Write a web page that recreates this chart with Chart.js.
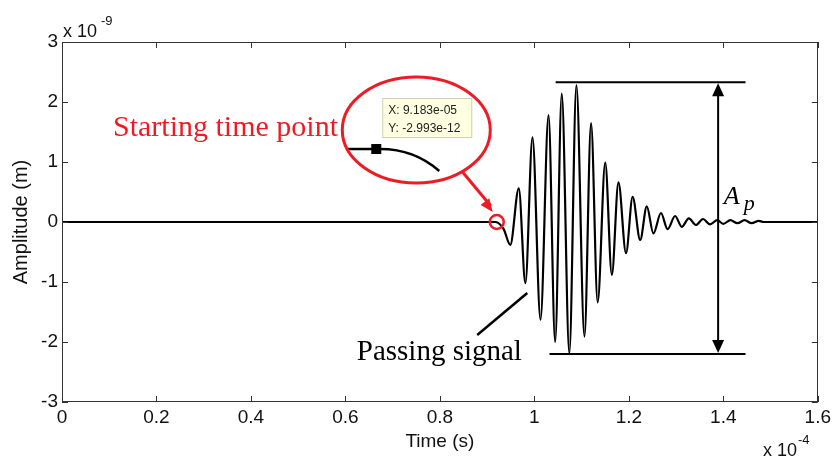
<!DOCTYPE html>
<html><head><meta charset="utf-8">
<script src="https://cdn.jsdelivr.net/npm/chart.js@4/dist/chart.umd.min.js"></script>
<style>html,body{margin:0;padding:0;background:#fff}#wrap{width:835px;height:461px;position:relative}</style>
</head><body><div id="wrap"><canvas id="c" width="835" height="461"></canvas></div>
<script>
// Time in units of 1e-4 s, amplitude in units of 1e-9 m
const timeE4 = [0, 0.918, 0.935, 0.949, 0.967, 0.981, 0.996, 1.013, 1.030, 1.044, 1.058, 1.074, 1.089, 1.106, 1.120, 1.134, 1.150, 1.164, 1.178, 1.194, 1.208, 1.224, 1.238, 1.252, 1.268, 1.282, 1.298, 1.312, 1.327, 1.342, 1.357, 1.372, 1.387, 1.400, 1.415, 1.430, 1.445, 1.460, 1.475, 1.485, 1.6];
const amplitudeE9 = [0, 0, -0.12, -0.38, 0.56, -1.02, 1.41, -1.63, 1.78, -2.00, 2.14, -2.19, 2.28, -1.91, 1.65, -1.34, 0.99, -0.88, 0.66, -0.52, 0.42, -0.30, 0.26, -0.19, 0.15, -0.12, 0.10, -0.08, 0.06, -0.05, 0.05, -0.04, 0.03, -0.03, 0.03, -0.02, 0.03, -0.02, 0.02, 0, 0];
const xTickLabels = ['0', '0.2', '0.4', '0.6', '0.8', '1', '1.2', '1.4', '1.6'];
const yTickLabels = ['-3', '-2', '-1', '0', '1', '2', '3'];
const startPoint = {t: 0.9183, a: -0.002993};
const apTop = 2.33, apBottom = -2.2, apX = 1.389;

const SANS = "'Liberation Sans', Arial, sans-serif";
const SERIF = "'Liberation Serif', 'Times New Roman', serif";
const RED = 'rgb(236,28,36)';

function seg(ctx, x1, y1, x2, y2) { ctx.beginPath(); ctx.moveTo(x1, y1); ctx.lineTo(x2, y2); ctx.stroke(); }
function head(ctx, tx, ty, fx, fy, len, w) {
  const ang = Math.atan2(ty - fy, tx - fx);
  ctx.beginPath();
  ctx.moveTo(tx, ty);
  ctx.lineTo(tx - len * Math.cos(ang) + w / 2 * Math.sin(ang), ty - len * Math.sin(ang) - w / 2 * Math.cos(ang));
  ctx.lineTo(tx - len * Math.cos(ang) - w / 2 * Math.sin(ang), ty - len * Math.sin(ang) + w / 2 * Math.cos(ang));
  ctx.closePath(); ctx.fill();
}

const annot = {
  id: 'annot',
  afterDatasetsDraw(chart) {
    const {ctx, chartArea: a, scales: {x, y}} = chart;
    const X = v => x.getPixelForValue(v), Y = v => y.getPixelForValue(v);
    ctx.save();
    // axes box + inner ticks
    ctx.strokeStyle = '#333'; ctx.lineWidth = 1;
    ctx.strokeRect(Math.round(a.left) + 0.5, Math.round(a.top) + 0.5, Math.round(a.right - a.left) - 1, Math.round(a.bottom - a.top) - 1);
    x.ticks.forEach(t => { const p = Math.round(X(t.value)) + 0.5; seg(ctx, p, a.bottom, p, a.bottom - 6); seg(ctx, p, a.top, p, a.top + 6); });
    y.ticks.forEach(t => { const p = Math.round(Y(t.value)) + 0.5; seg(ctx, a.left, p, a.left + 6, p); seg(ctx, a.right, p, a.right - 6, p); });
    // exponent labels
    ctx.fillStyle = '#111'; ctx.textBaseline = 'alphabetic'; ctx.textAlign = 'left';
    ctx.font = '18px ' + SANS; ctx.fillText('x 10', 63, 37);
    ctx.font = '13px ' + SANS; ctx.fillText('-9', 101, 25);
    ctx.font = '18px ' + SANS; ctx.fillText('x 10', 763, 456);
    ctx.font = '13px ' + SANS; ctx.fillText('-4', 798, 444);

    // A_p double arrow
    ctx.strokeStyle = '#000'; ctx.fillStyle = '#000'; ctx.lineWidth = 2;
    seg(ctx, X(1.045), Y(apTop), X(1.447), Y(apTop));
    seg(ctx, X(1.032), Y(apBottom), X(1.447), Y(apBottom));
    seg(ctx, X(apX), Y(apTop) + 10, X(apX), Y(apBottom) - 10);
    head(ctx, X(apX), Y(apTop) + 1, X(apX), Y(0), 13, 12);
    head(ctx, X(apX), Y(apBottom) - 1, X(apX), Y(0), 13, 12);
    ctx.font = 'italic 26px ' + SERIF; ctx.fillText('A', X(1.401), Y(0.3));
    ctx.font = 'italic 22px ' + SERIF; ctx.fillText('p', X(1.443), Y(0.2));

    // Passing signal
    ctx.lineWidth = 2.5;
    seg(ctx, X(0.879), Y(-1.883), X(0.985), Y(-1.183));
    ctx.font = '29px ' + SERIF; ctx.fillText('Passing signal', X(0.624), Y(-2.3));

    // Starting time point
    ctx.fillStyle = RED; ctx.font = '30px ' + SERIF;
    ctx.fillText('Starting time point', X(0.108), Y(1.433));
    const cx = X(0.750), cy = Y(1.533);
    // magnified inset
    ctx.strokeStyle = '#000'; ctx.lineWidth = 2.5;
    seg(ctx, cx - 69, cy + 19, cx - 40, cy + 19);
    ctx.beginPath(); ctx.moveTo(cx - 36, cy + 19); ctx.quadraticCurveTo(cx - 2, cy + 19, cx + 23, cy + 41); ctx.stroke();
    ctx.fillStyle = '#000'; ctx.fillRect(cx - 45, cy + 14, 10, 10);
    ctx.fillStyle = '#ffffe1'; ctx.strokeStyle = '#cfcfb8'; ctx.lineWidth = 1;
    ctx.fillRect(cx - 34, cy - 32, 90, 40); ctx.strokeRect(cx - 33.5, cy - 31.5, 89, 39);
    ctx.fillStyle = '#222'; ctx.font = '12px ' + SANS;
    ctx.fillText('X: 9.183e-05', cx - 28, cy - 16);
    ctx.fillText('Y: -2.993e-12', cx - 28, cy + 2);
    // ellipse
    ctx.strokeStyle = RED; ctx.fillStyle = RED; ctx.lineWidth = 3;
    ctx.beginPath(); ctx.ellipse(cx, cy, 74, 53, 0, 0, Math.PI * 2); ctx.stroke();
    // arrow to starting point
    const sx = X(startPoint.t), sy = Y(0);
    seg(ctx, X(0.848), Y(0.833), sx - 5, sy - 16);
    head(ctx, sx - 3, sy - 10, X(0.848), Y(0.833), 13, 11);
    ctx.lineWidth = 2.5;
    ctx.beginPath(); ctx.arc(sx + 1, sy, 7, 0, Math.PI * 2); ctx.stroke();
    ctx.restore();
  }
};

const tickFont = {family: SANS, size: 19};
new Chart(document.getElementById('c'), {
  type: 'line',
  data: {
    datasets: [{
      data: timeE4.map((t, i) => ({x: t, y: amplitudeE9[i]})),
      borderColor: '#000', borderWidth: 2.2, pointRadius: 0, cubicInterpolationMode: 'monotone', fill: false
    }]
  },
  options: {
    responsive: false, animation: false,
    layout: {padding: {left: 0, right: 16, top: 42, bottom: 0}},
    plugins: {legend: {display: false}, tooltip: {enabled: false}},
    scales: {
      x: {
        type: 'linear', min: 0, max: 1.6,
        ticks: {stepSize: 0.2, autoSkip: false, maxRotation: 0, padding: 4, color: '#111', font: tickFont,
          callback: (v, i) => xTickLabels[i]},
        grid: {display: false, drawTicks: false}, border: {display: false},
        title: {display: true, text: 'Time (s)', color: '#111', font: {family: SANS, size: 19}, padding: {top: 0, bottom: 8}},
        afterFit(s) { s.height = 59; }
      },
      y: {
        min: -3, max: 3,
        ticks: {stepSize: 1, padding: 4, color: '#111', font: tickFont, callback: (v, i) => yTickLabels[i]},
        grid: {display: false, drawTicks: false}, border: {display: false},
        title: {display: true, text: 'Amplitude (m)', color: '#111', font: {family: SANS, size: 20}, padding: {top: 9, bottom: 0}},
        afterFit(s) { s.width = 62; }
      }
    }
  },
  plugins: [annot]
});
</script></body></html>
